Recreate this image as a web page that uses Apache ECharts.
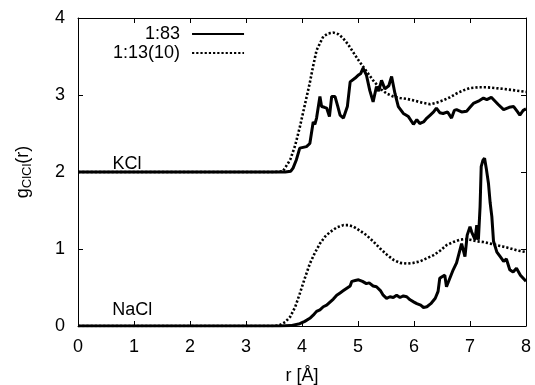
<!DOCTYPE html>
<html><head><meta charset="utf-8">
<script src="https://cdn.jsdelivr.net/npm/echarts@6/dist/echarts.min.js"></script>
<style>html,body{margin:0;padding:0;background:#fff}#c{width:535px;height:385px}</style>
</head><body><div id="c"></div>
<script>
// r [Å] ticks and g ticks
const xTicks = [0,1,2,3,4,5,6,7,8];
const yTicks = [0,1,2,3,4];
// KCl (offset +2)
const kcl_183 = [[0,2],[3.7,2],[3.8,2.01],[3.84,2.05],[3.9,2.16],[3.96,2.31],[4.02,2.32],[4.08,2.33],[4.14,2.37],[4.2,2.65],[4.23,2.62],[4.26,2.70],[4.32,2.98],[4.35,2.85],[4.4,2.84],[4.44,2.83],[4.49,2.72],[4.53,2.98],[4.59,2.98],[4.64,2.85],[4.68,2.74],[4.74,2.70],[4.81,2.85],[4.86,3.17],[4.95,3.22],[4.98,3.20],[5.01,3.26],[5.05,3.28],[5.09,3.35],[5.15,3.26],[5.21,3.06],[5.27,2.91],[5.33,3.11],[5.37,3.05],[5.42,3.19],[5.48,3.08],[5.55,3.12],[5.6,3.24],[5.66,3.02],[5.72,2.85],[5.81,2.76],[5.9,2.72],[5.99,2.62],[6.05,2.68],[6.1,2.63],[6.17,2.65],[6.23,2.70],[6.29,2.74],[6.35,2.78],[6.4,2.83],[6.46,2.77],[6.52,2.76],[6.6,2.78],[6.67,2.70],[6.72,2.80],[6.76,2.81],[6.85,2.78],[6.94,2.79],[7.0,2.84],[7.06,2.89],[7.15,2.92],[7.24,2.96],[7.3,2.94],[7.38,2.97],[7.5,2.88],[7.6,2.81],[7.7,2.84],[7.78,2.85],[7.85,2.78],[7.89,2.74],[7.95,2.80],[8.0,2.82]];
const kcl_11310 = [[0,2],[3.5,2],[3.66,2.01],[3.79,2.16],[3.88,2.35],[3.96,2.58],[4.05,2.87],[4.14,3.16],[4.2,3.38],[4.26,3.58],[4.38,3.76],[4.47,3.80],[4.56,3.81],[4.65,3.79],[4.73,3.74],[4.82,3.66],[4.91,3.56],[5.0,3.46],[5.09,3.37],[5.18,3.28],[5.27,3.19],[5.4,3.08],[5.51,3.02],[5.63,2.98],[5.75,2.96],[5.87,2.95],[5.99,2.93],[6.15,2.90],[6.29,2.88],[6.4,2.90],[6.52,2.93],[6.64,2.97],[6.76,3.02],[6.88,3.06],[7.0,3.09],[7.15,3.10],[7.3,3.10],[7.45,3.09],[7.59,3.08],[7.8,3.06],[8.0,3.04]];
// NaCl
const nacl_183 = [[0,0],[3.6,0],[3.8,0.005],[3.96,0.03],[4.05,0.06],[4.14,0.10],[4.2,0.14],[4.26,0.19],[4.32,0.21],[4.38,0.25],[4.44,0.27],[4.5,0.31],[4.56,0.35],[4.62,0.40],[4.68,0.43],[4.74,0.46],[4.8,0.49],[4.86,0.52],[4.89,0.58],[4.95,0.59],[5.01,0.60],[5.08,0.58],[5.15,0.55],[5.2,0.56],[5.27,0.52],[5.33,0.51],[5.4,0.46],[5.45,0.40],[5.51,0.36],[5.57,0.38],[5.63,0.37],[5.69,0.40],[5.75,0.37],[5.81,0.39],[5.87,0.38],[5.93,0.34],[6.0,0.31],[6.05,0.29],[6.12,0.27],[6.17,0.24],[6.23,0.25],[6.3,0.29],[6.38,0.36],[6.43,0.45],[6.46,0.62],[6.5,0.64],[6.55,0.66],[6.58,0.51],[6.64,0.62],[6.7,0.73],[6.76,0.82],[6.79,0.84],[6.85,1.07],[6.91,0.90],[6.95,1.18],[7.0,1.29],[7.03,1.22],[7.06,1.21],[7.09,1.12],[7.12,1.31],[7.15,1.12],[7.18,1.55],[7.2,2.07],[7.23,2.15],[7.26,2.18],[7.29,2.05],[7.33,1.85],[7.36,1.6],[7.39,1.42],[7.42,1.1],[7.48,0.96],[7.54,0.90],[7.6,0.84],[7.65,0.87],[7.71,0.73],[7.77,0.70],[7.83,0.75],[7.9,0.66],[7.95,0.62],[8.0,0.58]];
const nacl_11310 = [[0,0],[3.5,0],[3.6,0.01],[3.7,0.05],[3.79,0.12],[3.88,0.25],[3.96,0.42],[4.05,0.62],[4.14,0.81],[4.23,0.95],[4.32,1.07],[4.41,1.16],[4.5,1.22],[4.62,1.28],[4.74,1.31],[4.83,1.31],[4.92,1.29],[5.03,1.24],[5.15,1.18],[5.27,1.10],[5.39,1.01],[5.51,0.93],[5.63,0.86],[5.75,0.82],[5.87,0.81],[5.99,0.82],[6.11,0.84],[6.23,0.88],[6.35,0.92],[6.47,0.98],[6.58,1.05],[6.7,1.09],[6.82,1.12],[6.91,1.13],[7.0,1.12],[7.12,1.10],[7.24,1.09],[7.36,1.07],[7.48,1.05],[7.6,1.03],[7.71,1.01],[7.85,0.98],[8.0,0.96]];
const seriesNames = ['1:83','1:13(10)'];
const annotations = [['KCl',0.875,2.1],['NaCl',0.97,0.21]];

const FONT = 'Liberation Sans';
const chart = echarts.init(document.getElementById('c'));
const solid = {color:'#000', width:3, type:'solid'};
const dotted = {color:'#000', width:2.6, type:[2.2,2]};
function mk(name, data, ls){
  return {name, type:'line', data, showSymbol:false, symbol:'none', lineStyle:ls, itemStyle:{color:'#000'}, animation:false, z:3};
}
const axisCommon = {
  min:0, interval:1,
  axisLine:{show:true, onZero:false, lineStyle:{color:'#000', width:1}},
  axisTick:{show:true, inside:true, length:5, lineStyle:{color:'#000'}},
  splitLine:{show:false}
};
chart.setOption({
  animation:false,
  grid:{left:78, right:9, top:18, bottom:59, containLabel:false, outerBoundsMode:'none'},
  legend:{
    data:seriesNames, orient:'vertical', align:'right', left:108, top:20,
    itemWidth:52, itemHeight:12, itemGap:1,
    itemStyle:{opacity:0},
    textStyle:{fontFamily:FONT, fontSize:18, lineHeight:18, color:'#000', padding:[0,7,0,0]}
  },
  xAxis:[
    Object.assign({}, axisCommon, {type:'value', max:8, position:'bottom',
      axisLabel:{fontFamily:FONT, fontSize:18, color:'#000', margin:12, formatter:v=>xTicks.includes(v)?String(v):''},
      name:'r [Å]', nameLocation:'middle', nameGap:41, nameTextStyle:{fontFamily:FONT, fontSize:18, color:'#000'}}),
    Object.assign({}, axisCommon, {type:'value', max:8, position:'top', axisLabel:{show:false}})
  ],
  yAxis:[
    Object.assign({}, axisCommon, {type:'value', max:4, position:'left',
      axisLabel:{fontFamily:FONT, fontSize:18, color:'#000', margin:13, formatter:v=>yTicks.includes(v)?String(v):''},
      name:'g{s|ClCl}(r)', nameLocation:'middle', nameGap:44, nameRotate:90,
      nameTextStyle:{fontFamily:FONT, fontSize:18, color:'#000',
        rich:{s:{fontFamily:FONT, fontSize:13, color:'#000', verticalAlign:'bottom', padding:[8,0,0,0]}}}}),
    Object.assign({}, axisCommon, {type:'value', max:4, position:'right', axisLabel:{show:false}})
  ],
  series:[
    mk(seriesNames[0], kcl_183, solid),
    mk(seriesNames[1], kcl_11310, dotted),
    mk(seriesNames[0], nacl_183, solid),
    mk(seriesNames[1], nacl_11310, dotted),
    {type:'scatter', data:annotations.map(a=>({value:[a[1],a[2]], name:a[0]})), symbolSize:0, silent:true,
     itemStyle:{opacity:1, color:'#000'},
     label:{show:true, position:'inside', formatter:p=>p.name, fontFamily:FONT, fontSize:18, color:'#000', opacity:1}, z:4}
  ]
});
</script></body></html>
